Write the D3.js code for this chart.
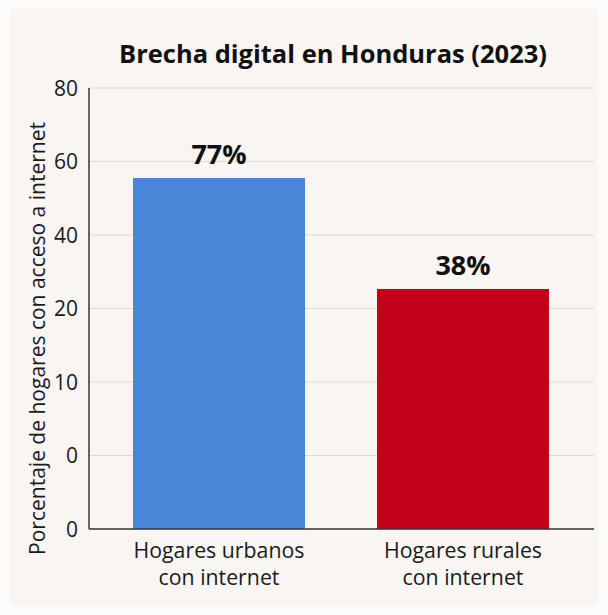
<!DOCTYPE html>
<html>
<head>
<meta charset="utf-8">
<script src="https://cdn.jsdelivr.net/npm/d3@7"></script>
<style>
  html, body { margin: 0; padding: 0; background: #fcfbfa; }
  svg { display: block; }
</style>
</head>
<body>
<svg id="chart" width="608" height="615"></svg>
<script>
// Data
const categories = ["Hogares urbanos\ncon internet", "Hogares rurales\ncon internet"];
const values = [77, 38];
const valueLabels = ["77%", "38%"];
const barColors = ["#4a86d8", "#c3001a"];
const tickLabels = ["80", "60", "40", "20", "10", "0", "0"];
const title = "Brecha digital en Honduras (2023)";
const yTitle = "Porcentaje de hogares con acceso a internet";

const W = 608, H = 615;
const margin = { top: 88, right: 12, bottom: 86, left: 89 };
const plotW = W - margin.left - margin.right;
const plotH = H - margin.top - margin.bottom;
const FONT = "'Open Sans', sans-serif";

const svg = d3.select("#chart");

// panel background
svg.append("rect")
  .attr("x", 10).attr("y", 9).attr("width", W - 20).attr("height", H - 18)
  .attr("fill", "#f8f5f3");

const g = svg.append("g").attr("transform", `translate(${margin.left},${margin.top})`);

// category axis
const x = d3.scaleBand().domain(d3.range(categories.length))
  .range([44, 460]).paddingInner(0.295).paddingOuter(0);

// tick labels sit evenly along the vertical axis
const yTicks = d3.scalePoint().domain(d3.range(tickLabels.length)).range([0, plotH]);

// bar heights follow a compressed (power) value scale
const y = d3.scalePow().exponent(0.538).domain([0, 117.7]).range([plotH, 0]);

// grid lines
g.selectAll("line.grid")
  .data(d3.range(tickLabels.length - 1))
  .join("line")
  .attr("class", "grid")
  .attr("x1", 1).attr("x2", plotW - 2)
  .attr("y1", i => yTicks(i)).attr("y2", i => yTicks(i))
  .attr("stroke", "#dcdad8").attr("stroke-width", 1.2);

// tick labels
g.selectAll("text.tick")
  .data(tickLabels)
  .join("text")
  .attr("class", "tick")
  .attr("x", -11)
  .attr("y", (d, i) => yTicks(i))
  .attr("dy", "0.36em")
  .attr("text-anchor", "end")
  .attr("font-family", FONT)
  .attr("font-size", 21)
  .attr("fill", "#1a1a1a")
  .text(d => d);

// bars
g.selectAll("rect.bar")
  .data(values)
  .join("rect")
  .attr("class", "bar")
  .attr("x", (d, i) => x(i))
  .attr("width", x.bandwidth())
  .attr("y", d => y(d))
  .attr("height", d => plotH - y(d))
  .attr("fill", (d, i) => barColors[i]);

// value labels
g.selectAll("text.value")
  .data(values)
  .join("text")
  .attr("class", "value")
  .attr("x", (d, i) => x(i) + x.bandwidth() / 2)
  .attr("y", d => y(d) - 14)
  .attr("text-anchor", "middle")
  .attr("font-family", FONT)
  .attr("font-weight", 700)
  .attr("font-size", 27)
  .attr("fill", "#111")
  .text((d, i) => valueLabels[i]);

// axis lines
g.append("line")
  .attr("x1", 0).attr("x2", 0).attr("y1", 0).attr("y2", plotH)
  .attr("stroke", "#333").attr("stroke-width", 1.5);
g.append("line")
  .attr("x1", 0).attr("x2", plotW - 2).attr("y1", plotH).attr("y2", plotH)
  .attr("stroke", "#333").attr("stroke-width", 1.5);

// category labels
const cat = g.selectAll("text.cat")
  .data(categories)
  .join("text")
  .attr("class", "cat")
  .attr("x", (d, i) => x(i) + x.bandwidth() / 2)
  .attr("y", plotH + 29)
  .attr("text-anchor", "middle")
  .attr("font-family", FONT)
  .attr("font-size", 21.3)
  .attr("fill", "#1a1a1a");
cat.selectAll("tspan")
  .data(d => d.split("\n"))
  .join("tspan")
  .attr("x", function () { return this.parentNode.getAttribute("x"); })
  .attr("dy", (d, i) => i === 0 ? 0 : 27)
  .text(d => d);

// title
svg.append("text")
  .attr("x", 333).attr("y", 63)
  .attr("text-anchor", "middle")
  .attr("font-family", FONT)
  .attr("font-weight", 700)
  .attr("font-size", 25.5)
  .attr("fill", "#111")
  .text(title);

// vertical axis title
svg.append("text")
  .attr("transform", `translate(45,${margin.top + plotH / 2 + 30}) rotate(-90)`)
  .attr("text-anchor", "middle")
  .attr("font-family", FONT)
  .attr("font-size", 21)
  .attr("fill", "#1a1a1a")
  .text(yTitle);
</script>
</body>
</html>
